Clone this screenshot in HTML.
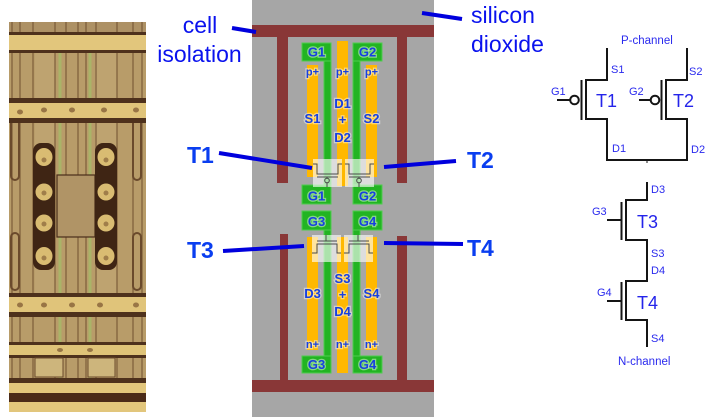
<!DOCTYPE html>
<html>
<head>
<meta charset="utf-8">
<style>
  html,body{margin:0;padding:0;background:#fff;}
  body{width:714px;height:417px;overflow:hidden;position:relative;}
  svg{position:absolute;left:0;top:0;}
  .ann{font-family:"Liberation Sans",sans-serif;font-size:23px;fill:#0a12ee;}
  .tl{font-family:"Liberation Sans",sans-serif;font-size:23px;font-weight:bold;fill:#0a3ef0;}
  .lb{font-family:"Liberation Sans",sans-serif;font-size:13px;font-weight:bold;fill:#1740e0;text-anchor:middle;stroke:rgba(255,255,255,0.45);stroke-width:2.5px;paint-order:stroke;}
  .sm{font-size:11px;}
  .sc{font-family:"Liberation Sans",sans-serif;font-size:11px;fill:#2a2aee;}
  .sb{font-family:"Liberation Sans",sans-serif;font-size:18px;fill:#2424ea;}
</style>
</head>
<body>
<svg width="714" height="417" viewBox="0 0 714 417" xmlns="http://www.w3.org/2000/svg">
  <!-- ============ DIE PHOTO ============ -->
  <g>
    <rect x="9" y="22" width="137" height="390" fill="#b89c69"/>
    <rect x="9" y="22" width="137" height="10" fill="#ad9165"/>
    <rect x="35" y="53" width="20" height="240" fill="#c2a874" opacity="0.6"/>
    <rect x="95" y="53" width="22" height="240" fill="#c2a874" opacity="0.6"/>
    <g stroke="#6e4e30" stroke-width="1.5" opacity="0.65">
      <line x1="12" y1="22" x2="12" y2="412"/>
      <line x1="20" y1="22" x2="20" y2="412"/>
      <line x1="33" y1="22" x2="33" y2="412"/>
      <line x1="55" y1="22" x2="55" y2="412"/>
      <line x1="66" y1="22" x2="66" y2="412"/>
      <line x1="78" y1="22" x2="78" y2="412"/>
      <line x1="86" y1="22" x2="86" y2="412"/>
      <line x1="96" y1="22" x2="96" y2="412"/>
      <line x1="117" y1="22" x2="117" y2="412"/>
      <line x1="133" y1="22" x2="133" y2="412"/>
      <line x1="142" y1="22" x2="142" y2="412"/>
    </g>
    <line x1="60" y1="32" x2="60" y2="380" stroke="#a9b468" stroke-width="3"/>
    <line x1="90" y1="32" x2="90" y2="380" stroke="#a9b468" stroke-width="3"/>
    <g fill="none" stroke="#6a4a2c" stroke-width="2">
      <rect x="11" y="113" width="8" height="67" rx="4"/>
      <rect x="11" y="233" width="8" height="57" rx="4"/>
      <rect x="133" y="113" width="8" height="67" rx="4"/>
      <rect x="133" y="233" width="8" height="57" rx="4"/>
    </g>
    <!-- center rectangle -->
    <rect x="57" y="175" width="38" height="62" fill="#b09466" stroke="#4a2e1a" stroke-width="1.2"/>
    <!-- gold bands -->
    <g>
      <rect x="9" y="32" width="137" height="21" fill="#4e311c"/>
      <rect x="9" y="35" width="137" height="15" fill="#e2c67c"/>
      <rect x="9" y="98" width="137" height="25" fill="#4e311c"/>
      <rect x="9" y="103" width="137" height="15" fill="#e0c47a"/>
      <rect x="9" y="293" width="137" height="24" fill="#4e311c"/>
      <rect x="9" y="297" width="137" height="15" fill="#e0c47a"/>
      <rect x="9" y="342" width="137" height="16" fill="#4e311c"/>
      <rect x="9" y="345" width="137" height="10" fill="#dfc378"/>
      <rect x="35" y="358" width="28" height="19" fill="#cdb57c" stroke="#6a4a2c" stroke-width="1"/>
      <rect x="88" y="358" width="27" height="19" fill="#cdb57c" stroke="#6a4a2c" stroke-width="1"/>
      <rect x="9" y="378" width="137" height="5" fill="#4e311c"/>
      <rect x="9" y="383" width="137" height="10" fill="#e2c67c"/>
      <rect x="9" y="393" width="137" height="9" fill="#4a2a18"/>
      <rect x="9" y="402" width="137" height="10" fill="#e2c67c"/>
    </g>
    <g fill="#7a5530" opacity="0.7">
      <ellipse cx="20" cy="112" rx="3" ry="2.5"/><ellipse cx="44" cy="110" rx="3" ry="2.5"/>
      <ellipse cx="72" cy="110" rx="3" ry="2.5"/><ellipse cx="104" cy="110" rx="3" ry="2.5"/>
      <ellipse cx="136" cy="110" rx="3" ry="2.5"/>
      <ellipse cx="20" cy="305" rx="3" ry="2.5"/><ellipse cx="44" cy="305" rx="3" ry="2.5"/>
      <ellipse cx="72" cy="305" rx="3" ry="2.5"/><ellipse cx="100" cy="305" rx="3" ry="2.5"/>
      <ellipse cx="136" cy="305" rx="3" ry="2.5"/>
      <ellipse cx="60" cy="350" rx="3" ry="2"/><ellipse cx="90" cy="350" rx="3" ry="2"/>
    </g>
    <!-- contacts -->
    <g>
      <rect x="33" y="143" width="22" height="127" rx="8" fill="#3f2514"/>
      <rect x="95" y="143" width="22" height="127" rx="8" fill="#3f2514"/>
      <g fill="#d9bc72">
        <ellipse cx="44" cy="157" rx="8.5" ry="9"/><ellipse cx="44" cy="192" rx="8.5" ry="8.5"/>
        <ellipse cx="44" cy="223" rx="8.5" ry="8.5"/><ellipse cx="44" cy="256" rx="8.5" ry="9"/>
        <ellipse cx="106" cy="157" rx="8.5" ry="9"/><ellipse cx="106" cy="192" rx="8.5" ry="8.5"/>
        <ellipse cx="106" cy="223" rx="8.5" ry="8.5"/><ellipse cx="106" cy="256" rx="8.5" ry="9"/>
      </g>
      <g fill="#7a5530" opacity="0.6">
        <circle cx="44" cy="160" r="2.5"/><circle cx="44" cy="193" r="2.5"/>
        <circle cx="44" cy="224" r="2.5"/><circle cx="44" cy="258" r="2.5"/>
        <circle cx="106" cy="160" r="2.5"/><circle cx="106" cy="193" r="2.5"/>
        <circle cx="106" cy="224" r="2.5"/><circle cx="106" cy="258" r="2.5"/>
      </g>
    </g>
  </g>

  <!-- ============ LAYOUT DIAGRAM ============ -->
  <rect x="252" y="0" width="182" height="417" fill="#a6a6a6"/>
  <g fill="#893737">
    <rect x="252" y="25" width="182" height="12"/>
    <rect x="277" y="37" width="11" height="146"/>
    <rect x="397" y="37" width="10" height="146"/>
    <rect x="280" y="234" width="8" height="146"/>
    <rect x="397" y="236" width="10" height="144"/>
    <rect x="252" y="380" width="182" height="12"/>
  </g>
  <g fill="#ffb800">
    <rect x="307" y="65" width="11" height="112"/>
    <rect x="337" y="41" width="11" height="145"/>
    <rect x="366" y="65" width="11" height="112"/>
    <rect x="307" y="237" width="11" height="113"/>
    <rect x="337" y="237" width="11" height="136"/>
    <rect x="366" y="237" width="11" height="113"/>
  </g>
  <g fill="#22b422" stroke="#4fcc4f" stroke-width="1">
    <rect x="324" y="43" width="7" height="143"/>
    <rect x="353" y="43" width="7" height="143"/>
    <rect x="302" y="43" width="29" height="18"/>
    <rect x="353" y="43" width="29" height="18"/>
    <rect x="302" y="185" width="29" height="19"/>
    <rect x="353" y="185" width="29" height="19"/>
    <rect x="324" y="211" width="7" height="162"/>
    <rect x="353" y="211" width="7" height="162"/>
    <rect x="302" y="211" width="29" height="19"/>
    <rect x="353" y="211" width="29" height="19"/>
    <rect x="302" y="356" width="29" height="17"/>
    <rect x="353" y="356" width="29" height="17"/>
  </g>
  <g fill="#ffffff" fill-opacity="0.62">
    <rect x="313" y="159" width="29" height="28"/>
    <rect x="345" y="159" width="29" height="28"/>
    <rect x="312" y="235" width="29" height="27"/>
    <rect x="344" y="235" width="29" height="27"/>
  </g>
  <g fill="none" stroke="#4a4a4a" stroke-width="1">
    <polyline points="313,164 317,164 317,174 338,174 338,164 342,164"/>
    <line x1="317" y1="177" x2="338" y2="177"/>
    <line x1="327" y1="177" x2="327" y2="178"/>
    <circle cx="327" cy="180.5" r="2.3"/>
    <line x1="327" y1="183" x2="327" y2="187"/>
    <polyline points="345,164 349,164 349,174 370,174 370,164 374,164"/>
    <line x1="349" y1="177" x2="370" y2="177"/>
    <line x1="359" y1="177" x2="359" y2="178"/>
    <circle cx="359" cy="180.5" r="2.3"/>
    <line x1="359" y1="183" x2="359" y2="187"/>
    <line x1="326" y1="235" x2="326" y2="241"/>
    <line x1="317" y1="241" x2="337" y2="241"/>
    <polyline points="312,253 317,253 317,244 337,244 337,253 341,253"/>
    <line x1="358" y1="235" x2="358" y2="241"/>
    <line x1="349" y1="241" x2="369" y2="241"/>
    <polyline points="344,253 349,253 349,244 369,244 369,253 373,253"/>
  </g>
  <g>
    <text class="lb" x="316.5" y="56.5">G1</text>
    <text class="lb" x="367.5" y="56.5">G2</text>
    <text class="lb sm" x="312.5" y="75.5">p+</text>
    <text class="lb sm" x="342.5" y="75.5">p+</text>
    <text class="lb sm" x="371.5" y="75.5">p+</text>
    <text class="lb" x="312.5" y="123">S1</text>
    <text class="lb" x="371.5" y="123">S2</text>
    <text class="lb" x="342.5" y="108">D1</text>
    <text class="lb" x="342.5" y="124">+</text>
    <text class="lb" x="342.5" y="142">D2</text>
    <text class="lb" x="316.5" y="200.5">G1</text>
    <text class="lb" x="367.5" y="200.5">G2</text>
    <text class="lb" x="316.5" y="226">G3</text>
    <text class="lb" x="367.5" y="226">G4</text>
    <text class="lb" x="342.5" y="283">S3</text>
    <text class="lb" x="342.5" y="299">+</text>
    <text class="lb" x="342.5" y="316">D4</text>
    <text class="lb" x="312.5" y="298">D3</text>
    <text class="lb" x="371.5" y="298">S4</text>
    <text class="lb sm" x="312.5" y="348">n+</text>
    <text class="lb sm" x="342.5" y="348">n+</text>
    <text class="lb sm" x="371.5" y="348">n+</text>
    <text class="lb" x="316.5" y="369">G3</text>
    <text class="lb" x="367.5" y="369">G4</text>
  </g>

  <!-- ============ ANNOTATIONS ============ -->
  <text class="ann" x="200" y="33" text-anchor="middle">cell</text>
  <text class="ann" x="199.5" y="62" text-anchor="middle">isolation</text>
  <text class="ann" x="471" y="23">silicon</text>
  <text class="ann" x="471" y="52">dioxide</text>
  <text class="tl" x="187" y="163">T1</text>
  <text class="tl" x="187" y="258">T3</text>
  <text class="tl" x="467" y="168">T2</text>
  <text class="tl" x="467" y="256">T4</text>
  <g stroke="#0000dd" stroke-width="4" stroke-linecap="butt">
    <line x1="232" y1="28" x2="256" y2="32"/>
    <line x1="422" y1="13" x2="462" y2="19"/>
    <line x1="219" y1="153" x2="312" y2="168"/>
    <line x1="223" y1="251" x2="304" y2="246"/>
    <line x1="384" y1="167" x2="456" y2="161"/>
    <line x1="384" y1="243" x2="463" y2="244"/>
  </g>

  <!-- ============ SCHEMATIC ============ -->
  <g fill="none" stroke="#151515" stroke-width="2">
    <polyline points="607,48 607,80 586,80"/>
    <line x1="586" y1="79" x2="586" y2="120"/>
    <polyline points="586,119 607,119 607,160 687,160 687,119 666,119"/>
    <line x1="666" y1="79" x2="666" y2="120"/>
    <polyline points="666,80 687,80 687,48"/>
    <line x1="581.5" y1="80" x2="581.5" y2="120"/>
    <line x1="661.5" y1="80" x2="661.5" y2="120"/>
    <line x1="557" y1="100" x2="570" y2="100"/>
    <line x1="639" y1="100" x2="652" y2="100"/>
    <line x1="647" y1="160" x2="647" y2="163" stroke-width="1"/>
    <polyline points="647,182 647,200 626,200"/>
    <line x1="626" y1="199" x2="626" y2="241"/>
    <polyline points="626,240 647,240 647,281 626,281"/>
    <line x1="626" y1="280" x2="626" y2="321"/>
    <polyline points="626,320 647,320 647,347"/>
    <line x1="621.5" y1="202" x2="621.5" y2="240"/>
    <line x1="621.5" y1="282" x2="621.5" y2="320"/>
    <line x1="607" y1="220" x2="621" y2="220"/>
    <line x1="607" y1="301" x2="621" y2="301"/>
  </g>
  <circle cx="574.5" cy="100" r="4.3" fill="#fff" stroke="#151515" stroke-width="2"/>
  <circle cx="655" cy="100" r="4.3" fill="#fff" stroke="#151515" stroke-width="2"/>
  <text class="sc" x="621" y="44" style="font-size:11.5px">P-channel</text>
  <text class="sc" x="611" y="73">S1</text>
  <text class="sc" x="689" y="75">S2</text>
  <text class="sc" x="612" y="152">D1</text>
  <text class="sc" x="691" y="153">D2</text>
  <text class="sc" x="551" y="95">G1</text>
  <text class="sc" x="629" y="95">G2</text>
  <text class="sb" x="596" y="107">T1</text>
  <text class="sb" x="673" y="107">T2</text>
  <text class="sc" x="651" y="193">D3</text>
  <text class="sc" x="592" y="215">G3</text>
  <text class="sb" x="637" y="228">T3</text>
  <text class="sc" x="651" y="257">S3</text>
  <text class="sc" x="651" y="274">D4</text>
  <text class="sc" x="597" y="296">G4</text>
  <text class="sb" x="637" y="309">T4</text>
  <text class="sc" x="651" y="342">S4</text>
  <text class="sc" x="618" y="365" style="font-size:11.5px">N-channel</text>
</svg>
</body>
</html>
